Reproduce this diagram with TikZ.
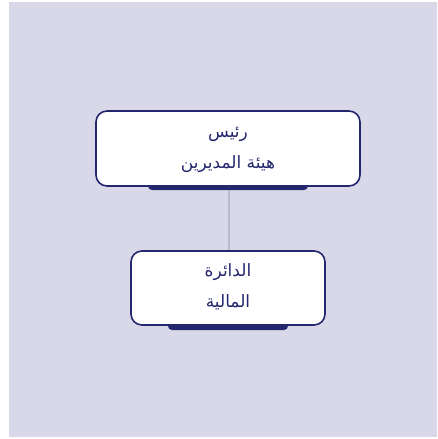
\documentclass[tikz,border=0pt]{standalone}
\usepackage{fontspec}
\newfontfamily\arabicfont[Script=Arabic]{DejaVu Sans}
\TeXXeTstate=1
\definecolor{bgc}{HTML}{D8D8E8}
\definecolor{navy}{HTML}{24266E}
\definecolor{linec}{HTML}{B9B9CD}
\begin{document}
\begin{tikzpicture}[x=1pt,y=-1pt,
  card/.style={draw=navy,line width=1.6pt,fill=white,rounded corners=11pt},
  tab/.style={fill=navy,rounded corners=4pt},
  lbl/.style={text=navy,font=\arabicfont\fontsize{17}{30}\selectfont,align=center,inner sep=0pt}]
\useasboundingbox (0,0) rectangle (437,439);
\fill[bgc] (9,2) rectangle (437,437);
% tabs
\fill[tab] (148,178) rectangle (308,190);
\fill[tab] (168,318) rectangle (288,330);
% connector
\coordinate (c1) at (229,190);
\coordinate (c2) at (229,250);
\draw[linec,line width=1.2pt] (c1) -- (c2);
% boxes
\draw[card] (96,111) rectangle (360,186);
\draw[card] (131,251) rectangle (325,325);
\node[lbl] (t1) at (228,134) {\beginR رئيس\endR};
\node[lbl] (t2) at (228,164) {\beginR هيئة المديرين\endR};
\node[lbl] (t3) at (228,272) {\beginR الدائرة\endR};
\node[lbl] (t4) at (228,302) {\beginR المالية\endR};
\end{tikzpicture}
\end{document}
